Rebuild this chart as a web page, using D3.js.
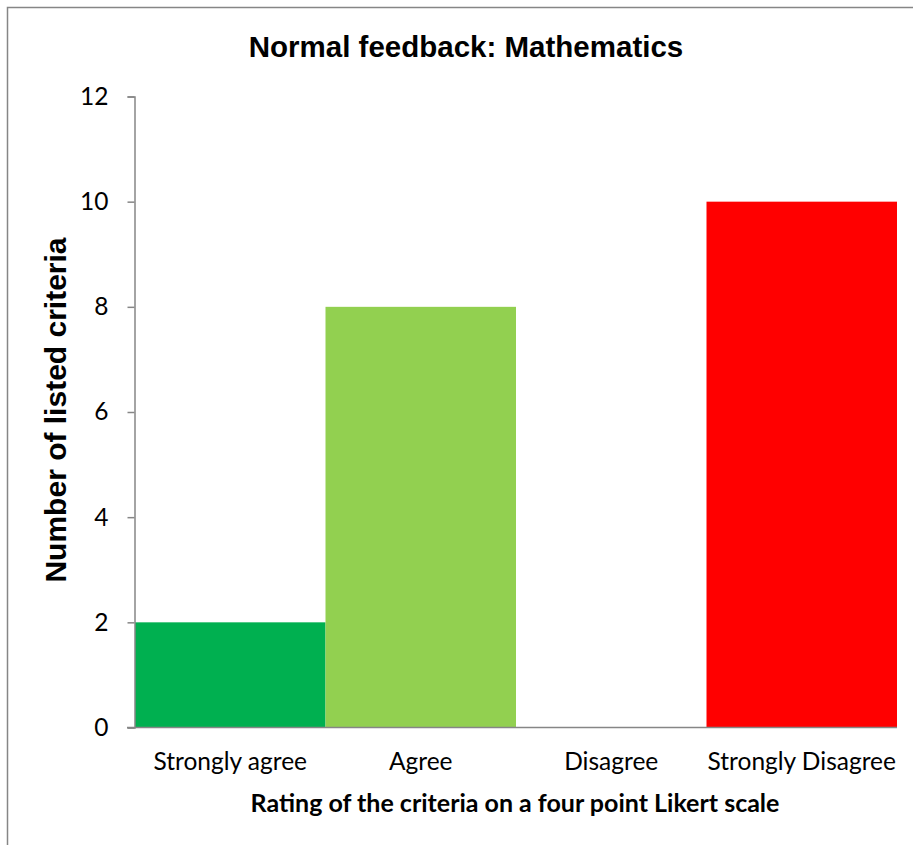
<html>
<head>
<meta charset="utf-8">
<title>Normal feedback: Mathematics</title>
<script src="https://cdnjs.cloudflare.com/ajax/libs/d3/7.8.5/d3.min.js"></script>
<style>
body {
  margin: 0;
  background: #fff;
}
.axis path, .axis line {
  stroke: #868686;
  stroke-width: 1.5;
}
.axis text {
  font: 24.5px Lato, sans-serif;
  fill: #000;
}
.title {
  font: bold 29.5px "Liberation Sans", Arial, sans-serif;
  text-anchor: middle;
}
.ytitle {
  font: bold 30px "Liberation Sans", Arial, sans-serif;
  text-anchor: middle;
}
.xtitle {
  font: bold 25px Lato, sans-serif;
  text-anchor: middle;
}
</style>
</head>
<body>
<div class="target"></div>
<script>
var categories = ["Strongly agree", "Agree", "Disagree", "Strongly Disagree"];
var counts = [2, 8, 0, 10];
var barColors = ["#00B050", "#92D050", "#FFFFFF", "#FF0000"];
var yTicks = [0, 2, 4, 6, 8, 10, 12];

drawChart('.target');

function drawChart(target) {
  'use strict';

  var width = 913, height = 845,
    margin = {top: 96.5, right: 16, bottom: 117.5, left: 135};

  var svg = d3.select(target)
    .append('svg')
      .attr('width', width)
      .attr('height', height);

  // outer frame (cut off at right and bottom like the original)
  svg.append('rect')
    .attr('x', 7.5)
    .attr('y', 7.5)
    .attr('width', 1000)
    .attr('height', 1000)
    .attr('fill', 'none')
    .attr('stroke', '#868686')
    .attr('stroke-width', 1.5);

  var x = d3.scaleBand()
    .domain(categories)
    .range([margin.left, width - margin.right])
    .padding(0);

  var y = d3.scaleLinear()
    .domain([0, 12])
    .range([height - margin.bottom, margin.top]);

  svg.append('g')
    .selectAll('rect')
    .data(counts)
    .enter().append('rect')
      .attr('x', function(d, i) { return x(categories[i]); })
      .attr('y', function(d) { return y(d); })
      .attr('width', x.bandwidth())
      .attr('height', function(d) { return y(0) - y(d); })
      .attr('fill', function(d, i) { return barColors[i]; });

  svg.append('g')
    .attr('class', 'axis')
    .attr('transform', 'translate(' + (margin.left - 0.5) + ',0)')
    .call(d3.axisLeft(y).tickValues(yTicks).tickSize(7).tickSizeOuter(7).tickPadding(19));

  var xAxis = svg.append('g')
    .attr('class', 'axis')
    .attr('transform', 'translate(0,' + y(0) + ')')
    .call(d3.axisBottom(x).tickSize(0).tickSizeOuter(0).tickPadding(25));
  xAxis.select('.domain')
    .attr('d', 'M' + (margin.left - 8) + ',0H' + (width - margin.right));

  svg.append('text')
    .attr('class', 'title')
    .attr('x', 466)
    .attr('y', 57)
    .text('Normal feedback: Mathematics');

  svg.append('text')
    .attr('class', 'ytitle')
    .attr('transform', 'translate(66,' + 410 + ') rotate(-90)')
    .text('Number of listed criteria');

  svg.append('text')
    .attr('class', 'xtitle')
    .attr('x', 515)
    .attr('y', 812)
    .text('Rating of the criteria on a four point Likert scale');
}
</script>
</body>
</html>
